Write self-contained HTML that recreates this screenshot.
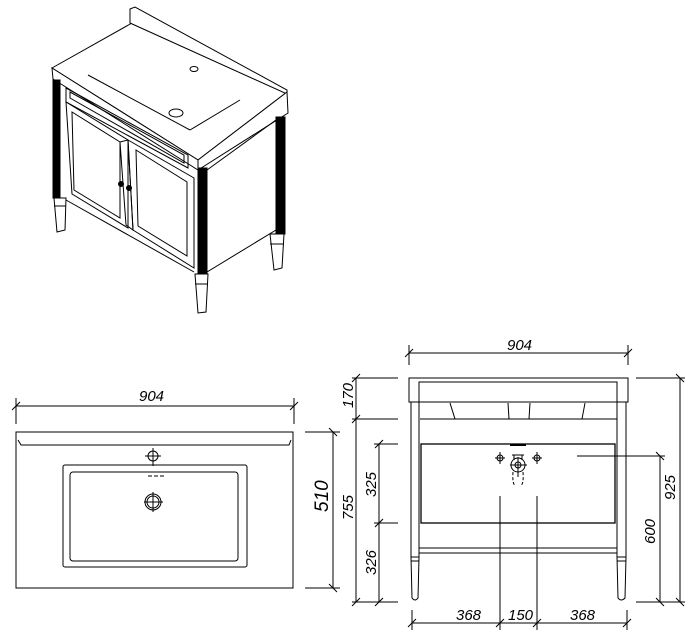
<!DOCTYPE html>
<html><head><meta charset="utf-8"><style>
html,body{margin:0;padding:0;background:#fff;}
svg{display:block;}
text{font-family:"Liberation Sans",sans-serif;font-style:italic;font-size:15px;fill:#000;stroke:none;}
</style></head><body>
<svg width="687" height="641" viewBox="0 0 687 641" xmlns="http://www.w3.org/2000/svg" fill="none" stroke="#000" stroke-width="1">
<!-- ISOMETRIC -->
<g stroke-width="1">
<polygon points="52,68 132,23 287,92 198,160" fill="#fff"/>
<polygon points="130,23 130,9 135,7 287,90 287,94" fill="#fff"/>
<polygon points="52,68 198,160 198,170 53,79" fill="#fff"/>
<polygon points="198,160 287,92 288,113 198,170" fill="#fff"/>
<line x1="88" y1="75" x2="190" y2="130"/>
<line x1="190" y1="130" x2="240" y2="100"/>
<ellipse cx="176" cy="113" rx="7" ry="4"/>
<ellipse cx="194" cy="69" rx="4" ry="2.5"/>
<!-- fascia -->
<polygon points="66,88 188,155 188,168 66,102"/>
<polygon points="70,92 184,155 184,163 70,98"/>
<!-- doors -->
<polygon points="66,102 128,140 128,228 72,194"/>
<polygon points="72,112 120,142 120,218 74,190"/>
<polygon points="128,140 194,178 194,268 133,230"/>
<polygon points="136,150 187,182 187,256 138,226"/>
<polygon points="120,142 128,140 133,230 126,225"/>
<line x1="66" y1="200" x2="194" y2="272"/>
<circle cx="121" cy="184" r="2.5" fill="#000"/>
<circle cx="129" cy="188" r="2.5" fill="#000"/>
<!-- side -->
<polygon points="207,170 276,120 276,230 207,272"/>
<!-- legs -->
<rect x="53" y="80" width="7" height="118" fill="#000"/>
<rect x="198" y="168" width="9" height="106" fill="#000"/>
<rect x="276" y="117" width="9" height="117" fill="#000"/>
<polygon points="54,198 66,198 65,230 57,232" fill="#fff"/>
<polygon points="195,274 208,274 206,312 198,313" fill="#fff"/>
<polygon points="270,234 284,234 282,268 274,270" fill="#fff"/>
<line x1="54" y1="206" x2="66" y2="206"/><line x1="195" y1="284" x2="208" y2="284"/><line x1="270" y1="244" x2="284" y2="244"/>
</g>

<!-- TOP VIEW -->
<g>
<line x1="16" y1="406" x2="294" y2="406"/>
<line x1="16" y1="398" x2="16" y2="424"/><line x1="294" y1="398" x2="294" y2="424"/>
<line x1="12" y1="410" x2="20" y2="402"/><line x1="290" y1="410" x2="298" y2="402"/>
<text x="139" y="401">904</text>
<rect x="16" y="432" width="277" height="156"/>
<polyline points="18,440 21,445 289,445 291,440"/>
<rect x="63" y="465" width="184" height="102" rx="2"/>
<rect x="70" y="472" width="168" height="89" rx="3"/>
<circle cx="153" cy="456" r="5"/>
<line x1="145" y1="456" x2="161" y2="456"/><line x1="153" y1="448" x2="153" y2="466"/>
<line x1="148" y1="476" x2="165" y2="476" stroke-dasharray="4,2"/>
<circle cx="153" cy="502" r="8"/><circle cx="153" cy="502" r="6"/>
<line x1="144" y1="502" x2="163" y2="502"/><line x1="153" y1="492" x2="153" y2="512"/>
<line x1="305" y1="432" x2="340" y2="432"/><line x1="305" y1="588" x2="340" y2="588"/>
<line x1="333" y1="432" x2="333" y2="588"/>
<line x1="329" y1="428" x2="337" y2="436"/><line x1="329" y1="584" x2="337" y2="592"/>
<text transform="translate(328,512) rotate(-90)" style="font-size:19px">510</text>
</g>

<!-- FRONT VIEW -->
<g>
<line x1="409" y1="353" x2="628" y2="353"/>
<line x1="409" y1="345" x2="409" y2="365"/><line x1="628" y1="345" x2="628" y2="365"/>
<line x1="405" y1="357" x2="413" y2="349"/><line x1="624" y1="357" x2="632" y2="349"/>
<text x="507" y="350">904</text>
<rect x="409" y="378" width="219" height="24"/>
<rect x="419" y="382" width="198" height="20"/>
<line x1="450" y1="403" x2="455" y2="419"/><line x1="508" y1="403" x2="509" y2="419"/>
<line x1="530" y1="403" x2="529" y2="419"/><line x1="585" y1="403" x2="582" y2="419"/>
<rect x="411" y="402" width="8" height="155"/>
<rect x="617" y="402" width="9" height="155"/>
<line x1="420" y1="419" x2="617" y2="419"/>
<rect x="421" y="444" width="194" height="79" stroke-width="1.3"/>
<line x1="419" y1="548" x2="617" y2="548"/><line x1="419" y1="553" x2="617" y2="553"/>
<path d="M411,557 L419,557 L418,598 Q415,602 412,598 Z"/>
<path d="M617,557 L626,557 L625,598 Q621,602 618,598 Z"/>
<line x1="411" y1="561" x2="419" y2="561"/><line x1="617" y1="561" x2="626" y2="561"/>
<!-- faucet -->
<line x1="510" y1="445" x2="526" y2="445" stroke-width="2"/>
<circle cx="518" cy="465" r="7"/><circle cx="518" cy="465" r="3"/>
<path d="M512,455 L524,455 M514,455 L514,460 M522,455 L522,460"/>
<path d="M513,472 Q512,485 516,486 M523,472 Q524,485 520,486" stroke-dasharray="3,2"/>
<circle cx="500" cy="458" r="3"/><circle cx="537" cy="458" r="3"/>
<line x1="495" y1="458" x2="505" y2="458"/><line x1="532" y1="458" x2="542" y2="458"/>
<line x1="500" y1="452" x2="500" y2="464"/><line x1="537" y1="452" x2="537" y2="464"/>
<line x1="510" y1="465" x2="527" y2="465"/><line x1="518" y1="457" x2="518" y2="477"/>
<!-- leader 600 -->
<line x1="577" y1="456" x2="665" y2="456"/>
<line x1="660" y1="456" x2="660" y2="602"/>
<line x1="656" y1="452" x2="664" y2="460"/><line x1="656" y1="598" x2="664" y2="606"/>
<text transform="translate(655,544) rotate(-90)">600</text>
<!-- 925 -->
<line x1="636" y1="378" x2="685" y2="378"/><line x1="636" y1="602" x2="685" y2="602"/>
<line x1="680" y1="378" x2="680" y2="602"/>
<line x1="676" y1="374" x2="684" y2="382"/><line x1="676" y1="598" x2="684" y2="606"/>
<text transform="translate(675,500) rotate(-90)">925</text>
<!-- left dims -->
<line x1="352" y1="378" x2="398" y2="378"/><line x1="352" y1="419" x2="398" y2="419"/>
<line x1="374" y1="444" x2="398" y2="444"/><line x1="374" y1="523" x2="398" y2="523"/>
<line x1="352" y1="602" x2="398" y2="602"/>
<line x1="356" y1="378" x2="356" y2="602"/>
<line x1="379" y1="444" x2="379" y2="602"/>
<line x1="352" y1="382" x2="360" y2="374"/><line x1="352" y1="423" x2="360" y2="415"/><line x1="352" y1="606" x2="360" y2="598"/>
<line x1="375" y1="448" x2="383" y2="440"/><line x1="375" y1="527" x2="383" y2="519"/><line x1="375" y1="606" x2="383" y2="598"/>
<text transform="translate(353,408) rotate(-90)">170</text>
<text transform="translate(353,520) rotate(-90)">755</text>
<text transform="translate(376,497) rotate(-90)">325</text>
<text transform="translate(376,575) rotate(-90)">326</text>
<!-- bottom -->
<line x1="500" y1="496" x2="500" y2="630"/><line x1="537" y1="496" x2="537" y2="630"/>
<line x1="412" y1="610" x2="412" y2="630"/><line x1="627" y1="610" x2="627" y2="630"/>
<line x1="412" y1="623" x2="627" y2="623"/>
<line x1="408" y1="627" x2="416" y2="619"/><line x1="496" y1="627" x2="504" y2="619"/>
<line x1="533" y1="627" x2="541" y2="619"/><line x1="623" y1="627" x2="631" y2="619"/>
<text x="456" y="620">368</text>
<text x="508" y="620">150</text>
<text x="570" y="620">368</text>
</g>
</svg>
</body></html>
